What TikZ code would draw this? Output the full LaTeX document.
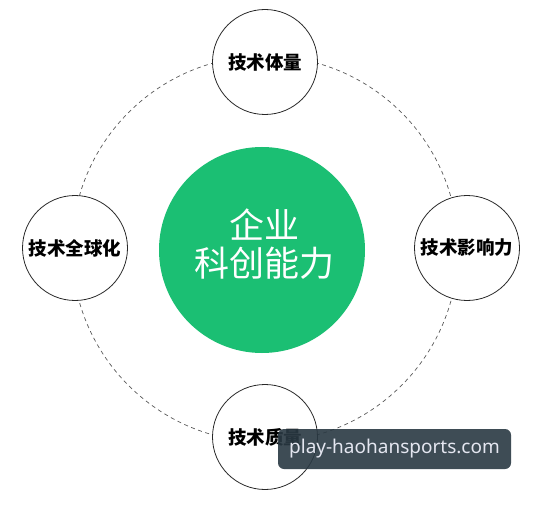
\documentclass[tikz,border=0pt]{standalone}
\usepackage{fontspec}
\newfontfamily\cjk{Noto Sans CJK SC}
\newfontfamily\wmfont{Noto Sans}
\definecolor{cgreen}{RGB}{27,191,115}
\definecolor{cgray}{RGB}{40,40,40}
\definecolor{dgray}{RGB}{90,90,90}
\definecolor{wmbg}{RGB}{42,57,67}
\definecolor{wmtx}{RGB}{228,230,240}
\begin{document}
\begin{tikzpicture}[x=1pt,y=-1pt,
  small/.style={circle,draw=cgray,line width=0.8pt,fill=white,minimum size=105pt,inner sep=0pt,font=\cjk\bfseries\fontsize{18.5}{20}\selectfont,text=black},
  big/.style={circle,fill=cgreen,minimum size=206pt,inner sep=0pt},
  bigtext/.style={font=\cjk\fontsize{35}{37}\selectfont,text=white,anchor=base},
  ring/.style={draw=dgray,line width=0.7pt,dash pattern=on 4pt off 3.5pt},
  wmbox/.style={fill=wmbg,fill opacity=0.9,text opacity=1,rounded corners=6pt,minimum width=233pt,minimum height=40pt,inner sep=0pt,text=wmtx,font=\wmfont\fontsize{19}{21}\selectfont}]
\useasboundingbox (0,0) rectangle (546,505);
\fill[white] (0,0) rectangle (546,505);
\coordinate (rc) at (265,249);
\draw[ring] (rc) circle (193);
\node[big] (core) at (262,250) {};
\node[bigtext] (t1) at (264,238) {企业};
\node[bigtext] (t2) at (264,276) {科创能力};
\node[small] (top) at (265,62) {技术体量};
\node[small] (left) at (75,248) {技术全球化};
\node[small] (right) at (467,248) {技术影响力};
\node[small] (bottom) at (265,437) {技术质量};
\node[wmbox] (wm) at (394.5,449) {play-haohansports.com};
\end{tikzpicture}
\end{document}
